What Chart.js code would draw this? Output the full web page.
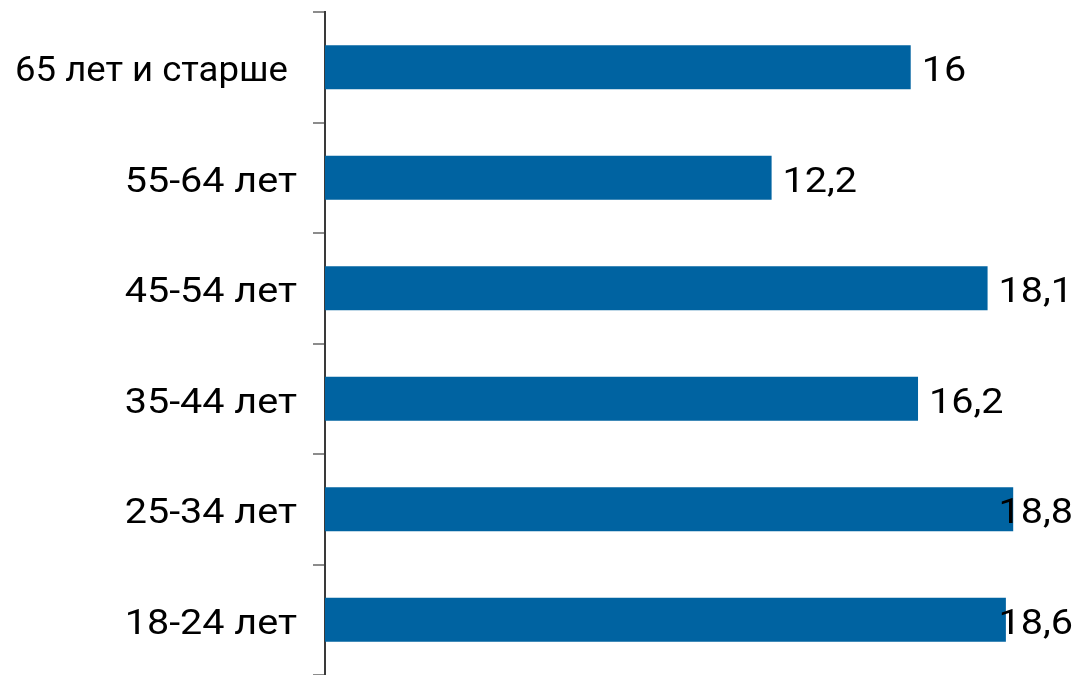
<!DOCTYPE html>
<html>
<head>
<meta charset="utf-8">
<script src="https://cdn.jsdelivr.net/npm/chart.js@4"></script>
<style>
  html, body { margin: 0; padding: 0; background: #fff; }
  #wrap { width: 1078px; height: 675px; position: relative; }
</style>
</head>
<body>
<div id="wrap"><canvas id="ageChart"></canvas></div>
<script>
const ageGroups = ['65 лет и старше ', '55-64 лет', '45-54 лет', '35-44 лет', '25-34 лет', '18-24 лет'];
const shares = [16, 12.2, 18.1, 16.2, 18.8, 18.6];
const xMax = 20.57;

const fontFamily = 'Roboto, "Liberation Sans", sans-serif';
const fontSize = 35;
const stretch = 1.13; // текст в оригинале немного растянут по ширине

function drawStretched(ctx, text, x, y, align, maxW) {
    const natural = ctx.measureText(text).width;
    let sx = stretch;
    if (maxW && natural * sx > maxW) sx = maxW / natural;
    const w = natural * sx;
    const left = align === 'right' ? x - w : x;
    ctx.save();
    ctx.translate(left, y);
    ctx.scale(sx, 1);
    ctx.fillText(text, 0, 0);
    ctx.restore();
    return w;
}

// подписи категорий и значений
const textLabels = {
    id: 'textLabels',
    afterDraw(chart) {
        const ctx = chart.ctx;
        const meta = chart.getDatasetMeta(0);
        const yScale = chart.scales.y;
        ctx.save();
        ctx.font = fontSize + 'px ' + fontFamily;
        ctx.fillStyle = '#000';
        ctx.textBaseline = 'alphabetic';
        ctx.textAlign = 'left';
        const labelRight = yScale.right - 28;
        ageGroups.forEach(function(label, i) {
            const y = yScale.getPixelForTick(i) + 14;
            drawStretched(ctx, label, labelRight, y, 'right', labelRight - 15);
        });
        meta.data.forEach(function(bar, i) {
            const text = String(shares[i]).replace('.', ',');
            const w = ctx.measureText(text).width * stretch;
            let x = bar.x + 11;
            if (x + w > chart.width - 5) x = chart.width - 5 - w;
            drawStretched(ctx, text, x, bar.y + 14, 'left');
        });
        ctx.restore();
    }
};

const ctx = document.getElementById('ageChart').getContext('2d');
new Chart(ctx, {
    type: 'bar',
    data: {
        labels: ageGroups,
        datasets: [{
            data: shares,
            backgroundColor: '#0063A1',
            barPercentage: 0.4,
            categoryPercentage: 1.0
        }]
    },
    options: {
        indexAxis: 'y',
        responsive: true,
        maintainAspectRatio: false,
        animation: false,
        layout: { padding: { top: 12, right: 0, bottom: 0, left: 0 } },
        plugins: {
            legend: { display: false },
            tooltip: { enabled: false }
        },
        scales: {
            x: {
                display: false,
                min: 0,
                max: xMax
            },
            y: {
                afterFit: function(scale) {
                    scale.width = 325;
                    scale.paddingTop = 0;
                    scale.paddingBottom = 0;
                },
                ticks: { display: false },
                grid: {
                    offset: true,
                    drawOnChartArea: false,
                    tickLength: 12,
                    color: '#8c8c8c',
                    lineWidth: 2
                },
                border: { color: '#3a3a3a', width: 2 }
            }
        }
    },
    plugins: [textLabels]
});
</script>
</body>
</html>
